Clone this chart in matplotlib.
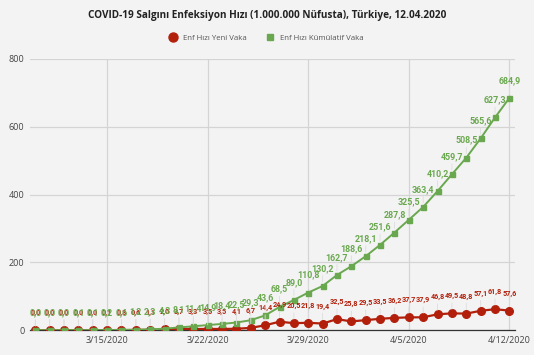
import numpy as np
import pandas as pd
import matplotlib.pyplot as plt
import matplotlib.dates as mdates

plt.rcParams['font.family'] = ['Open Sans', 'DejaVu Sans']

# Data: infection rate per 1,000,000 population, Turkey
dates = pd.date_range('2020-03-10', '2020-04-12', freq='D')
yeni_vaka = [0.0, 0.0, 0.0, 0.0, 0.0, 0.1, 0.3, 0.6, 1.1, 2.0, 3.7, 3.3,
             3.5, 3.5, 4.1, 6.7, 14.4, 24.9, 20.5, 21.8, 19.4, 32.5, 25.8,
             29.5, 33.5, 36.2, 37.7, 37.9, 46.8, 49.5, 48.8, 57.1, 61.8, 57.6]
kumulatif_vaka = [0.0, 0.0, 0.0, 0.1, 0.1, 0.2, 0.6, 1.2, 2.3, 4.3, 8.1, 11.4,
                  14.9, 18.4, 22.5, 29.3, 43.6, 68.5, 89.0, 110.8, 130.2, 162.7,
                  188.6, 218.1, 251.6, 287.8, 325.5, 363.4, 410.2, 459.7, 508.5,
                  565.6, 627.3, 684.9]
tick_dates = pd.to_datetime(['2020-03-15', '2020-03-22', '2020-03-29', '2020-04-05', '2020-04-12'])

red = '#b2200c'
green = '#6aa84f'
bg = '#f3f3f3'

fig = plt.figure(figsize=(5.34, 3.55), dpi=100, facecolor=bg)
ax = fig.add_axes([0.056, 0.070, 0.908, 0.764], facecolor=bg)

ax.plot(dates, yeni_vaka, '-o', color=red, lw=1.6, ms=5.5, label='Enf Hızı Yeni Vaka', zorder=4)
ax.plot(dates, kumulatif_vaka, '-s', color=green, lw=1.4, ms=3.6, label='Enf Hızı Kümülatif Vaka', zorder=5)


def fmt(v):
    return f'{v:.1f}'.replace('.', ',')


for d, v in zip(dates, yeni_vaka):
    ax.annotate(fmt(v), (d, v), xytext=(0, 9.5), textcoords='offset points',
                ha='center', va='bottom', fontsize=5.2, fontweight='bold', color=red,
                family=['Roboto', 'DejaVu Sans'], zorder=6,
                arrowprops=dict(arrowstyle='-', color='#dddddd', lw=0.6, shrinkA=0, shrinkB=3))
for d, v in zip(dates, kumulatif_vaka):
    ax.annotate(fmt(v), (d, v), xytext=(0, 9.5), textcoords='offset points',
                ha='center', va='bottom', fontsize=6.4, fontweight='bold', color=green,
                family=['Roboto', 'DejaVu Sans'], zorder=7,
                arrowprops=dict(arrowstyle='-', color='#dddddd', lw=0.6, shrinkA=0, shrinkB=3))

ax.set_ylim(0, 800)
ax.set_yticks([0, 200, 400, 600, 800])
ax.set_xlim(dates[0] - pd.Timedelta(hours=9), dates[-1] + pd.Timedelta(hours=9))
ax.set_xticks(tick_dates)
ax.xaxis.set_major_formatter(mdates.DateFormatter('%-m/%-d/%Y'))
ax.tick_params(axis='both', length=0, labelsize=6.5, colors='#444444', pad=4)
ax.grid(True, color='#d4d4d4', lw=0.9)
ax.set_axisbelow(True)
for s in ['top', 'right', 'left']:
    ax.spines[s].set_visible(False)
ax.spines['bottom'].set_color('#333333')
ax.spines['bottom'].set_linewidth(0.9)

fig.suptitle('COVID-19 Salgını Enfeksiyon Hızı (1.000.000 Nüfusta), Türkiye, 12.04.2020',
             x=0.5, y=0.972, fontsize=7.2, fontweight='bold', color='#222222')
leg = fig.legend(loc='center', bbox_to_anchor=(0.5, 0.893), ncol=2, frameon=False,
                 fontsize=5.6, handlelength=0.8, columnspacing=2.6, handletextpad=0.9,
                 labelcolor='#555555')
for h, ms in zip(leg.legend_handles, [6.5, 4.8]):
    h.set_linestyle('')
    h.set_markersize(ms)

fig.savefig('out.png', dpi=100, facecolor=bg)
